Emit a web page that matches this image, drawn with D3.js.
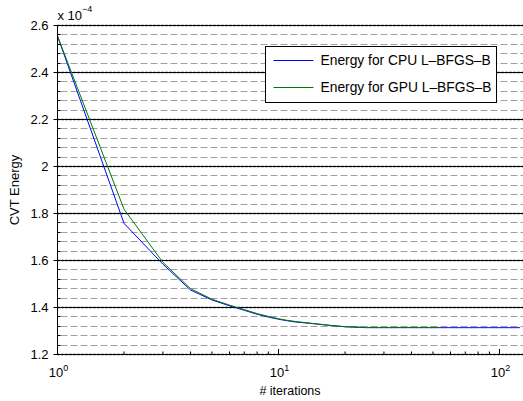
<!DOCTYPE html>
<html>
<head>
<meta charset="utf-8">
<script src="https://cdn.jsdelivr.net/npm/d3@7"></script>
<style>
  body { margin: 0; background: #fff; }
  svg { display: block; font-family: "Liberation Sans", Arial, sans-serif; }
</style>
</head>
<body>
<div id="chart"></div>
<script>
/* DATA (energy in units of 1e-4) */
const cpuIter   = [1, 2, 3, 4, 5, 6, 7, 8, 9, 10, 11, 12, 14, 17, 20, 25, 124];
const cpuEnergy = [2.553, 1.756, 1.582, 1.472, 1.430, 1.405, 1.386, 1.369, 1.357, 1.348, 1.341, 1.336, 1.330, 1.322, 1.316, 1.312, 1.312];
const gpuIter   = [1, 2, 3, 4, 5, 6, 7, 8, 9, 10, 11, 12, 14, 17, 20, 25, 53];
const gpuEnergy = [2.553, 1.816, 1.590, 1.478, 1.433, 1.408, 1.389, 1.372, 1.360, 1.350, 1.343, 1.338, 1.331, 1.322, 1.316, 1.313, 1.313];
const seriesNames = ["Energy for CPU L\u2013BFGS\u2013B", "Energy for GPU L\u2013BFGS\u2013B"];
const seriesColors = ["#0000ff", "#007a00"];
const yMajorTicks = [1.2, 1.4, 1.6, 1.8, 2.0, 2.2, 2.4, 2.6];
const yTickLabels = ["1.2", "1.4", "1.6", "1.8", "2", "2.2", "2.4", "2.6"];
const xMajorTicks = [1, 10, 100];
const xExponents = ["0", "1", "2"];

/* CONSTANTS */
const W = 523, H = 401,
  margin = { top: 25, left: 57.5 },
  plotBottom = 354,
  decade = 221;

const svg = d3.select("#chart").append("svg")
  .attr("width", W).attr("height", H);

// SCALES
const x = d3.scaleLog()
  .domain([1, 100])
  .range([margin.left, margin.left + 2 * decade]);

const y = d3.scaleLinear()
  .domain([1.2, 2.6])
  .range([plotBottom, margin.top]);

const yPix = d => Math.round(y(d)) + 0.5;

// minor grid every 0.04
const yMinor = d3.range(1.24, 2.6, 0.04).map(v => +v.toFixed(2))
  .filter(v => !yMajorTicks.some(t => Math.abs(t - v) < 1e-6));

svg.append("g")
  .selectAll("line")
  .data(yMinor)
  .join("line")
  .attr("x1", margin.left + 3).attr("x2", W)
  .attr("y1", yPix).attr("y2", yPix)
  .attr("stroke", "#a0a0a0")
  .attr("stroke-dasharray", "7,3");

// major grid: dark dotted texture over a solid black line
const major = svg.append("g");
major.selectAll(".halo")
  .data(yMajorTicks)
  .join("line")
  .attr("class", "halo")
  .attr("x1", margin.left).attr("x2", W)
  .attr("y1", yPix).attr("y2", yPix)
  .attr("stroke", "#888")
  .attr("stroke-width", 2.2)
  .attr("stroke-dasharray", "2,2");
major.selectAll(".solid")
  .data(yMajorTicks)
  .join("line")
  .attr("class", "solid")
  .attr("x1", margin.left).attr("x2", W)
  .attr("y1", yPix).attr("y2", yPix)
  .attr("stroke", "#000");

// LINES
const line = d3.line()
  .x(d => x(d[0]))
  .y(d => y(d[1]));

const series = [
  d3.zip(cpuIter, cpuEnergy),
  d3.zip(gpuIter, gpuEnergy)
];

svg.append("g")
  .selectAll("path")
  .data(series)
  .join("path")
  .attr("d", line)
  .attr("fill", "none")
  .attr("stroke", (d, i) => seriesColors[i])
  .attr("stroke-width", 1);

// AXES
// y axis: line + ticks
const yAxisG = svg.append("g");
yAxisG.append("line")
  .attr("x1", margin.left).attr("x2", margin.left)
  .attr("y1", margin.top).attr("y2", plotBottom)
  .attr("stroke", "#000");
yAxisG.selectAll(".minor")
  .data(yMinor)
  .join("line")
  .attr("class", "minor")
  .attr("x1", margin.left).attr("x2", margin.left + 3)
  .attr("y1", yPix).attr("y2", yPix)
  .attr("stroke", "#000");
yAxisG.selectAll(".major")
  .data(yMajorTicks)
  .join("line")
  .attr("class", "major")
  .attr("x1", margin.left - 4).attr("x2", margin.left + 4)
  .attr("y1", yPix).attr("y2", yPix)
  .attr("stroke", "#000");
yAxisG.selectAll("text")
  .data(yMajorTicks)
  .join("text")
  .attr("x", margin.left - 9)
  .attr("y", d => y(d))
  .attr("dy", "0.36em")
  .attr("text-anchor", "end")
  .attr("font-size", 13)
  .text((d, i) => yTickLabels[i]);

// exponent label
const expo = svg.append("text")
  .attr("x", margin.left)
  .attr("y", 20)
  .attr("font-size", 13);
expo.append("tspan").text("x 10");
expo.append("tspan").attr("dy", -8).attr("font-size", 9).text("\u22124");

// x axis
const xMinor = [];
[1, 10, 100].forEach(b => d3.range(2, 10).forEach(k => xMinor.push(b * k)));

const xAxisG = svg.append("g");
xAxisG.append("line")
  .attr("x1", margin.left).attr("x2", W)
  .attr("y1", plotBottom + 0.5).attr("y2", plotBottom + 0.5)
  .attr("stroke", "#000");
xAxisG.selectAll(".minor")
  .data(xMinor.filter(v => x(v) < W))
  .join("line")
  .attr("class", "minor")
  .attr("x1", d => x(d)).attr("x2", d => x(d))
  .attr("y1", plotBottom).attr("y2", plotBottom - 2.5)
  .attr("stroke", "#000");
xAxisG.selectAll(".major")
  .data(xMajorTicks)
  .join("line")
  .attr("class", "major")
  .attr("x1", d => x(d)).attr("x2", d => x(d))
  .attr("y1", plotBottom).attr("y2", plotBottom - 5)
  .attr("stroke", "#000");
const xl = xAxisG.selectAll("text")
  .data(xMajorTicks)
  .join("text")
  .attr("x", d => x(d) + 1)
  .attr("y", 377)
  .attr("text-anchor", "middle")
  .attr("font-size", 13);
xl.append("tspan").text("10");
xl.append("tspan").attr("dy", -6).attr("font-size", 9).text((d, i) => xExponents[i]);

// axis titles
svg.append("text")
  .attr("x", 290).attr("y", 395)
  .attr("text-anchor", "middle")
  .attr("font-size", 12.5)
  .text("# iterations");

svg.append("text")
  .attr("transform", "translate(19,190) rotate(-90)")
  .attr("text-anchor", "middle")
  .attr("font-size", 13)
  .text("CVT Energy");

// LEGEND
const legend = svg.append("g").attr("transform", "translate(265.5,46.5)");
legend.append("rect")
  .attr("width", 231).attr("height", 56)
  .attr("fill", "#fff")
  .attr("stroke", "#000");
const items = legend.selectAll("g.item")
  .data(seriesNames)
  .join("g")
  .attr("class", "item")
  .attr("transform", (d, i) => `translate(0,${14 + i * 27})`);
items.append("line")
  .attr("x1", 8).attr("x2", 48)
  .attr("stroke", (d, i) => seriesColors[i]);
items.append("text")
  .attr("x", 55).attr("dy", "0.36em")
  .attr("font-size", 13.8)
  .text(d => d);
</script>
</body>
</html>
